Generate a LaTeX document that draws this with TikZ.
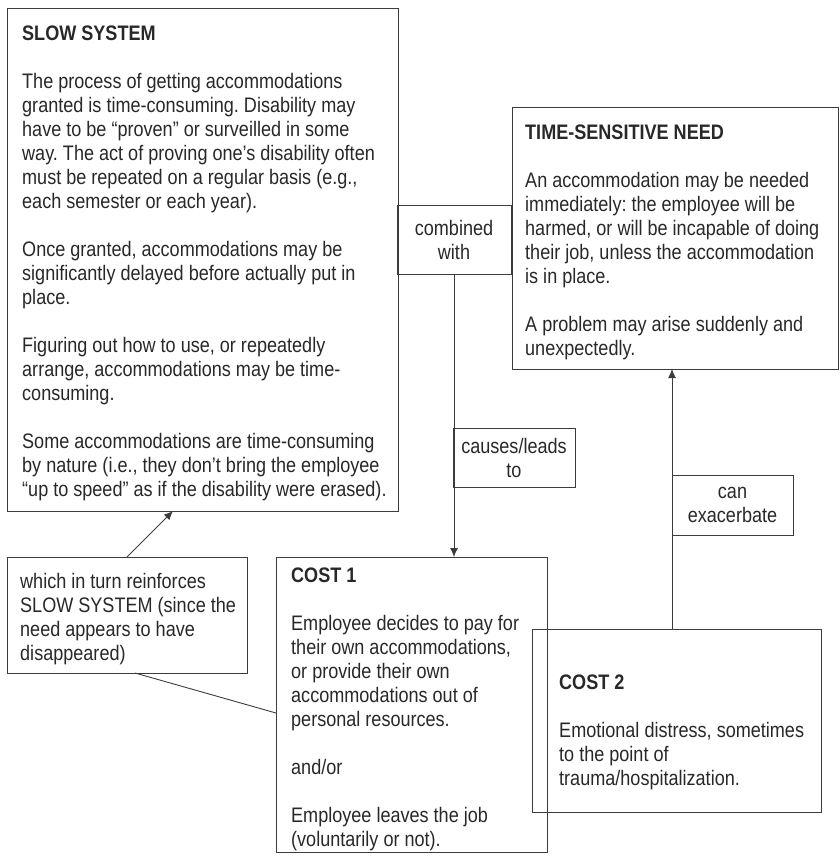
\documentclass[tikz,border=0pt]{standalone}
\usepackage{fontspec}
\setmainfont{Liberation Sans}[FakeStretch=0.86]
\usepackage{xcolor}
\usepackage{tikz}
\usetikzlibrary{arrows.meta}
\definecolor{ink}{RGB}{40, 40, 40}
\definecolor{linegray}{RGB}{60, 60, 60}
\frenchspacing

\begin{document}
\begin{tikzpicture}[x=1pt, y=-1pt,
    box/.style={draw=linegray, line width=0.9pt, inner sep=0pt, outer sep=0pt, anchor=north west},
    txt/.style={text=ink, font=\fontsize{21}{24}\selectfont, align=left, inner sep=0pt, anchor=north west},
    lbl/.style={draw=linegray, line width=0.9pt, text=ink, font=\fontsize{21}{24}\selectfont,
                align=center, inner sep=0pt, outer sep=0pt},
    arr/.style={draw=linegray, line width=0.9pt, -{Latex[length=9pt, width=8pt]}},
    link/.style={draw=linegray, line width=0.9pt}]
      \useasboundingbox (0, 0) rectangle (839, 862);
      % Box: slow system
      \node[box, minimum width=391pt, minimum height=503pt] (slow) at (7, 8) {};
      \node[txt] (slowtext) at (22, 26) {\textbf{SLOW SYSTEM}\\[24pt]
        The process of getting accommodations\\
        granted is time-consuming. Disability may\\
        have to be “proven” or surveilled in some\\
        way. The act of proving one’s disability often\\
        must be repeated on a regular basis (e.g.,\\
        each semester or each year).\\[24pt]
        Once granted, accommodations may be\\
        significantly delayed before actually put in\\
        place.\\[24pt]
        Figuring out how to use, or repeatedly\\
        arrange, accommodations may be time-\\
        consuming.\\[24pt]
        Some accommodations are time-consuming\\
        by nature (i.e., they don’t bring the employee\\
        “up to speed” as if the disability were erased).};
      % Box: time-sensitive need
      \node[box, minimum width=326pt, minimum height=262pt] (need) at (512, 107) {};
      \node[txt] (needtext) at (525, 125) {\textbf{TIME-SENSITIVE NEED}\\[24pt]
        An accommodation may be needed\\
        immediately: the employee will be\\
        harmed, or will be incapable of doing\\
        their job, unless the accommodation\\
        is in place.\\[24pt]
        A problem may arise suddenly and\\
        unexpectedly.};
      % Box: cost 1
      \node[box, minimum width=271pt, minimum height=295pt] (costone) at (276, 557) {};
      \node[txt] (costonetext) at (291, 568) {\textbf{COST 1}\\[24pt]
        Employee decides to pay for\\
        their own accommodations,\\
        or provide their own\\
        accommodations out of\\
        personal resources.\\[24pt]
        and/or\\[24pt]
        Employee leaves the job\\
        (voluntarily or not).};
      % Box: cost 2 (drawn over cost 1)
      \node[box, minimum width=289pt, minimum height=183pt] (costtwo) at (532, 629) {};
      \node[txt] (costtwotext) at (559, 675) {\textbf{COST 2}\\[24pt]
        Emotional distress, sometimes\\
        to the point of\\
        trauma/hospitalization.};
      % Box: feedback note
      \node[box, minimum width=240pt, minimum height=116pt] (which) at (7, 557) {};
      \node[txt] (whichtext) at (20, 573) {which in turn reinforces\\
        SLOW SYSTEM (since the\\
        need appears to have\\
        disappeared)};
      % Label boxes
      \node[lbl, minimum width=114pt, minimum height=69pt] (combined) at (454, 239.5) {combined\\with};
      \node[lbl, minimum width=122pt, minimum height=59pt] (causes) at (514, 457.5) {causes/leads\\to};
      \node[lbl, minimum width=121pt, minimum height=60pt] (exacer) at (732.5, 505) {can\\exacerbate};
      % Connectors
      \draw[arr] (combined.south) -- (combined.south |- costone.north);
      \draw[arr] (exacer.west |- costtwo.north) -- (exacer.west |- need.south);
      \draw[arr] (which.north) -- ([xshift=-29.5pt]slow.south);
      \draw[link] ([xshift=8pt]which.south) -- ([yshift=-8.5pt]costone.west);
    \end{tikzpicture}
\end{document}
